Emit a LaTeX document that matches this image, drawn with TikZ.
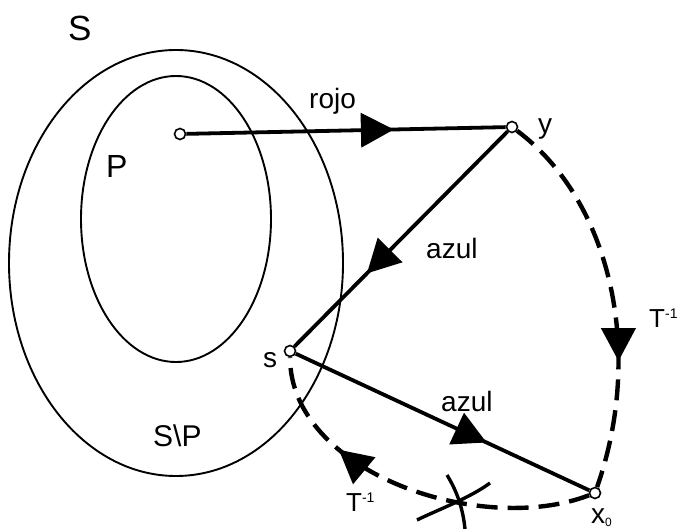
\documentclass[tikz,border=0pt]{standalone}
\usepackage{fontspec}
\setmainfont{Liberation Sans}
\usetikzlibrary{arrows.meta,decorations.markings}
\tikzset{
  region/.style={line width=1.9pt},
  pt/.style={circle, draw, fill=white, line width=1.6pt, inner sep=0pt, minimum size=11pt},
  solidcon/.style={line width=3.8pt},
  dashcon/.style={line width=4.4pt, dash pattern=on 21pt off 10pt},
  midarrow/.style={postaction={decorate}, decoration={markings, mark=at position #1 with {\arrow{Triangle[length=33pt,width=34pt]}}}},
  lbl/.style={inner sep=0pt, anchor=base west, font=\fontsize{28}{28}\selectfont},
  biglbl/.style={inner sep=0pt, anchor=base west},
  crossmark/.style={line width=3.4pt}
}
\newcommand{\Tinv}{T\raisebox{9pt}{\fontsize{14}{14}\selectfont -1}}
\begin{document}
\begin{tikzpicture}[x=1pt,y=-1pt]
\useasboundingbox (0,0) rectangle (683,529);
% regions
\draw[region] (176,263) ellipse [x radius=167, y radius=213];
\draw[region] (176,219) ellipse [x radius=95, y radius=143];
\node[biglbl, font=\fontsize{35}{35}\selectfont] (lS) at (68,41) {S};
\node[biglbl, font=\fontsize{32}{32}\selectfont] (lP) at (106,178) {P};
\node[biglbl, font=\fontsize{30}{30}\selectfont] (lSP) at (153,446) {S\textbackslash P};
% points
\node[pt] (p) at (180,134) {};
\node[pt] (y) at (512,127) {};
\node[pt] (s) at (290,351) {};
\node[pt] (x0) at (595,493) {};
% connectors
\draw[solidcon, midarrow=0.65] (p) -- (y);
\draw[solidcon, midarrow=0.66] (y) -- (s);
\draw[solidcon, midarrow=0.65] (s) -- (x0);
\draw[dashcon, midarrow=0.67] (y) .. controls (610,200) and (645,350) .. (x0);
\draw[dashcon, midarrow=0.71] (x0) .. controls (480,537) and (290,472) .. (s);
% cross mark
\draw[crossmark] (447,475) .. controls (458,493) and (463,510) .. (465,529);
\draw[crossmark] (417,520) .. controls (435,511) and (470,498) .. (490,483);
% labels
\node[lbl] (lrojo) at (309,109) {rojo};
\node[lbl] (lazul1) at (426,259) {azul};
\node[lbl] (lazul2) at (441,411) {azul};
\node[lbl] (ly) at (538,134) {y};
\node[lbl] (ls) at (263,368) {s};
\node[lbl] (lx) at (591,523) {x\raisebox{-3pt}{\fontsize{12}{12}\selectfont 0}};
\node[lbl, font=\fontsize{26}{26}\selectfont] (lT1) at (649,328) {\Tinv};
\node[lbl, font=\fontsize{26}{26}\selectfont] (lT2) at (346,511) {\Tinv};
\end{tikzpicture}
\end{document}
